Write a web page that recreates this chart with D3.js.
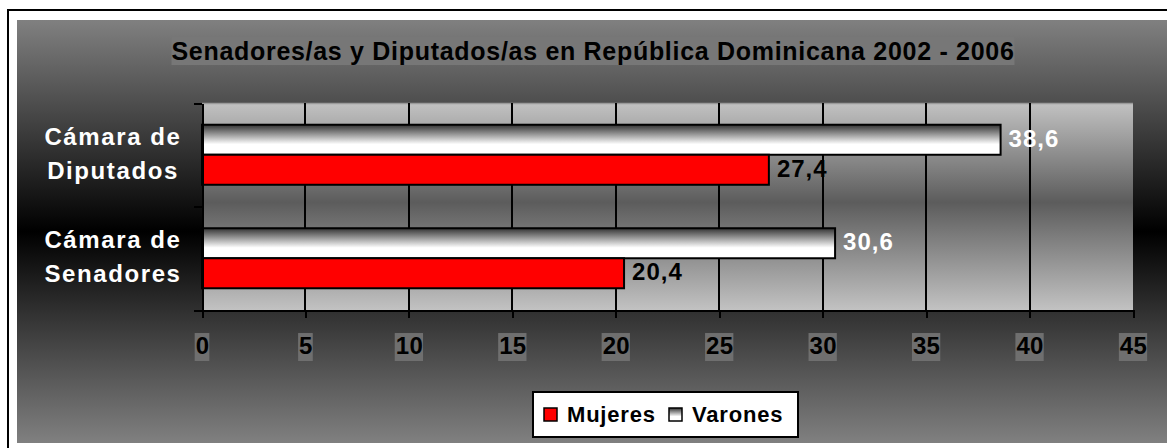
<!DOCTYPE html>
<meta charset="utf-8">
<style>
    body {
        margin: 0;
        background-color: #fff;
    }
    text {
        font-family: "Liberation Sans", Arial, sans-serif;
        font-weight: bold;
    }
    .axis path,
    .axis line {
        fill: none;
        stroke: #000;
        stroke-width: 2px;
        shape-rendering: crispEdges;
    }
    .axis text {
        font-size: 24px;
        letter-spacing: 0.3px;
        fill: #000;
    }
    .grid line {
        stroke: #000;
        stroke-width: 2px;
        shape-rendering: crispEdges;
    }
</style>
<body>
<svg width="1167" height="448"></svg>
<script src="https://d3js.org/d3.v7.min.js"></script>
<script>
    // data
    var categories = ["Cámara de Diputados", "Cámara de Senadores"];
    var categoryLines = [["Cámara de", "Diputados"], ["Cámara de", "Senadores"]];
    var seriesNames = ["Varones", "Mujeres"];          // top to bottom inside each group
    var varones = [38.6, 30.6];
    var mujeres = [27.4, 20.4];
    var xTicks = [0, 5, 10, 15, 20, 25, 30, 35, 40, 45];
    var title = "Senadores/as y Diputados/as en República Dominicana 2002 - 2006";
    var legendNames = ["Mujeres", "Varones"];

    var values = {Varones: varones, Mujeres: mujeres};

    var svg = d3.select("svg"),
        margin = {top: 103, left: 202},
        width = 931,
        height = 207;

    var defs = svg.append("defs");

    var bgGrad = defs.append("linearGradient").attr("id", "bgGrad")
        .attr("x1", 0).attr("y1", 0).attr("x2", 0).attr("y2", 1);
    bgGrad.append("stop").attr("offset", "0%").attr("stop-color", "#808080");
    bgGrad.append("stop").attr("offset", "50%").attr("stop-color", "#000");
    bgGrad.append("stop").attr("offset", "100%").attr("stop-color", "#808080");

    var plotGrad = defs.append("linearGradient").attr("id", "plotGrad")
        .attr("x1", 0).attr("y1", 0).attr("x2", 0).attr("y2", 1);
    plotGrad.append("stop").attr("offset", "0%").attr("stop-color", "#c2c2c2");
    plotGrad.append("stop").attr("offset", "48%").attr("stop-color", "#5c5c5c");
    plotGrad.append("stop").attr("offset", "100%").attr("stop-color", "#c2c2c2");

    var barGrad = defs.append("linearGradient").attr("id", "barGrad")
        .attr("x1", 0).attr("y1", 0).attr("x2", 0).attr("y2", 1);
    barGrad.append("stop").attr("offset", "0%").attr("stop-color", "#333");
    barGrad.append("stop").attr("offset", "65%").attr("stop-color", "#fff");
    barGrad.append("stop").attr("offset", "100%").attr("stop-color", "#fff");

    var fills = {Varones: "url(#barGrad)", Mujeres: "#ff0000"};
    var labelColors = {Varones: "#fff", Mujeres: "#000"};

    // chart background + border
    svg.append("rect")
        .attr("x", 17).attr("y", 20)
        .attr("width", 1150).attr("height", 423)
        .attr("fill", "url(#bgGrad)");
    svg.append("rect")
        .attr("x", 8).attr("y", 10)
        .attr("width", 1170).attr("height", 450)
        .attr("fill", "none").attr("stroke", "#000").attr("stroke-width", 2);

    // title
    var tg = svg.append("g");
    var titleText = tg.append("text")
        .attr("x", 593).attr("y", 60)
        .attr("text-anchor", "middle")
        .style("font-size", "25px")
        .style("letter-spacing", "0.7px")
        .attr("fill", "#000")
        .text(title);
    var tb = titleText.node().getBBox();
    tg.insert("rect", "text")
        .attr("x", tb.x).attr("y", tb.y)
        .attr("width", tb.width).attr("height", tb.height)
        .attr("fill", "#777");

    // scales
    var x = d3.scaleLinear().domain([0, 45]).range([0, width]);
    var y0 = d3.scaleBand().domain(categories).range([0, height])
        .paddingInner(0.42).paddingOuter(0.21);
    var y1 = d3.scaleBand().domain(seriesNames).range([0, y0.bandwidth()]);
    var yEdge = d3.scaleLinear().domain([0, categories.length]).range([0, height]);

    var g = svg.append("g")
        .attr("transform", "translate(" + margin.left + "," + margin.top + ")");

    g.append("rect")
        .attr("width", width).attr("height", height)
        .attr("fill", "url(#plotGrad)");
    g.append("line")
        .attr("x1", 0).attr("x2", width).attr("y1", 0.5).attr("y2", 0.5)
        .attr("stroke", "#9a9a9a").attr("stroke-width", 1.5);

    // vertical gridlines
    g.append("g").attr("class", "grid")
        .selectAll("line")
        .data(xTicks.filter(function(d) { return d > 0 && d < 45; }))
        .enter().append("line")
        .attr("x1", function(d) { return x(d); })
        .attr("x2", function(d) { return x(d); })
        .attr("y1", 0).attr("y2", height);

    // bars
    var groups = g.selectAll(".grp")
        .data(categories)
        .enter().append("g")
        .attr("class", "grp")
        .attr("transform", function(d) { return "translate(0," + y0(d) + ")"; });

    groups.selectAll("rect")
        .data(function(c, i) {
            return seriesNames.map(function(s) { return {s: s, v: values[s][i]}; });
        })
        .enter().append("rect")
        .attr("x", 0)
        .attr("y", function(d) { return y1(d.s); })
        .attr("width", function(d) { return x(d.v); })
        .attr("height", y1.bandwidth())
        .attr("fill", function(d) { return fills[d.s]; })
        .attr("stroke", "#000")
        .attr("stroke-width", 2);

    groups.selectAll(".lbl")
        .data(function(c, i) {
            return seriesNames.map(function(s) { return {s: s, v: values[s][i]}; });
        })
        .enter().append("text")
        .attr("class", "lbl")
        .attr("x", function(d) { return x(d.v) + 8; })
        .attr("y", function(d) { return y1(d.s) + y1.bandwidth() / 2 + 7; })
        .style("font-size", "24px")
        .style("letter-spacing", "1px")
        .attr("fill", function(d) { return labelColors[d.s]; })
        .text(function(d) { return String(d.v).replace(".", ","); });

    // axes
    var xAxis = g.append("g")
        .attr("class", "axis")
        .attr("transform", "translate(0," + height + ")")
        .call(d3.axisBottom(x).tickValues(xTicks).tickSize(8).tickPadding(19).tickSizeOuter(0));
    xAxis.selectAll(".tick").each(function() {
        var t = d3.select(this).select("text");
        var b = t.node().getBBox();
        d3.select(this).insert("rect", "text")
            .attr("x", b.x - 1).attr("y", b.y + 1)
            .attr("width", b.width + 1).attr("height", b.height + 1)
            .attr("fill", "#6f6f6f");
    });

    g.append("g")
        .attr("class", "axis")
        .call(d3.axisLeft(yEdge).tickValues(d3.range(0, categories.length + 1))
            .tickFormat("").tickSize(8).tickSizeOuter(0));

    // category labels
    svg.selectAll(".cat")
        .data(categories)
        .enter().append("text")
        .attr("class", "cat")
        .attr("text-anchor", "middle")
        .attr("fill", "#fff")
        .style("font-size", "24px")
        .style("letter-spacing", "1.6px")
        .each(function(c, i) {
            var cy = margin.top + y0(c) + y0.bandwidth() / 2;
            var t = d3.select(this);
            t.append("tspan").attr("x", 113).attr("y", cy - 10).text(categoryLines[i][0]);
            t.append("tspan").attr("x", 113).attr("y", cy + 24).text(categoryLines[i][1]);
        });

    // legend
    var legend = svg.append("g").attr("transform", "translate(533,392)");
    legend.append("rect")
        .attr("width", 265).attr("height", 45)
        .attr("fill", "#fff").attr("stroke", "#000").attr("stroke-width", 2);
    var legendX = [11, 136];
    var items = legend.selectAll(".item")
        .data(legendNames)
        .enter().append("g")
        .attr("class", "item")
        .attr("transform", function(d, i) { return "translate(" + legendX[i] + ",0)"; });
    items.append("rect")
        .attr("x", 0).attr("y", 16)
        .attr("width", 13).attr("height", 13)
        .attr("fill", function(d) { return fills[d]; })
        .attr("stroke", "#000").attr("stroke-width", 1.5);
    items.append("text")
        .attr("x", 23).attr("y", 30)
        .style("font-size", "22px")
        .style("letter-spacing", "0.8px")
        .attr("fill", "#000")
        .text(function(d) { return d; });
</script>
</body>
